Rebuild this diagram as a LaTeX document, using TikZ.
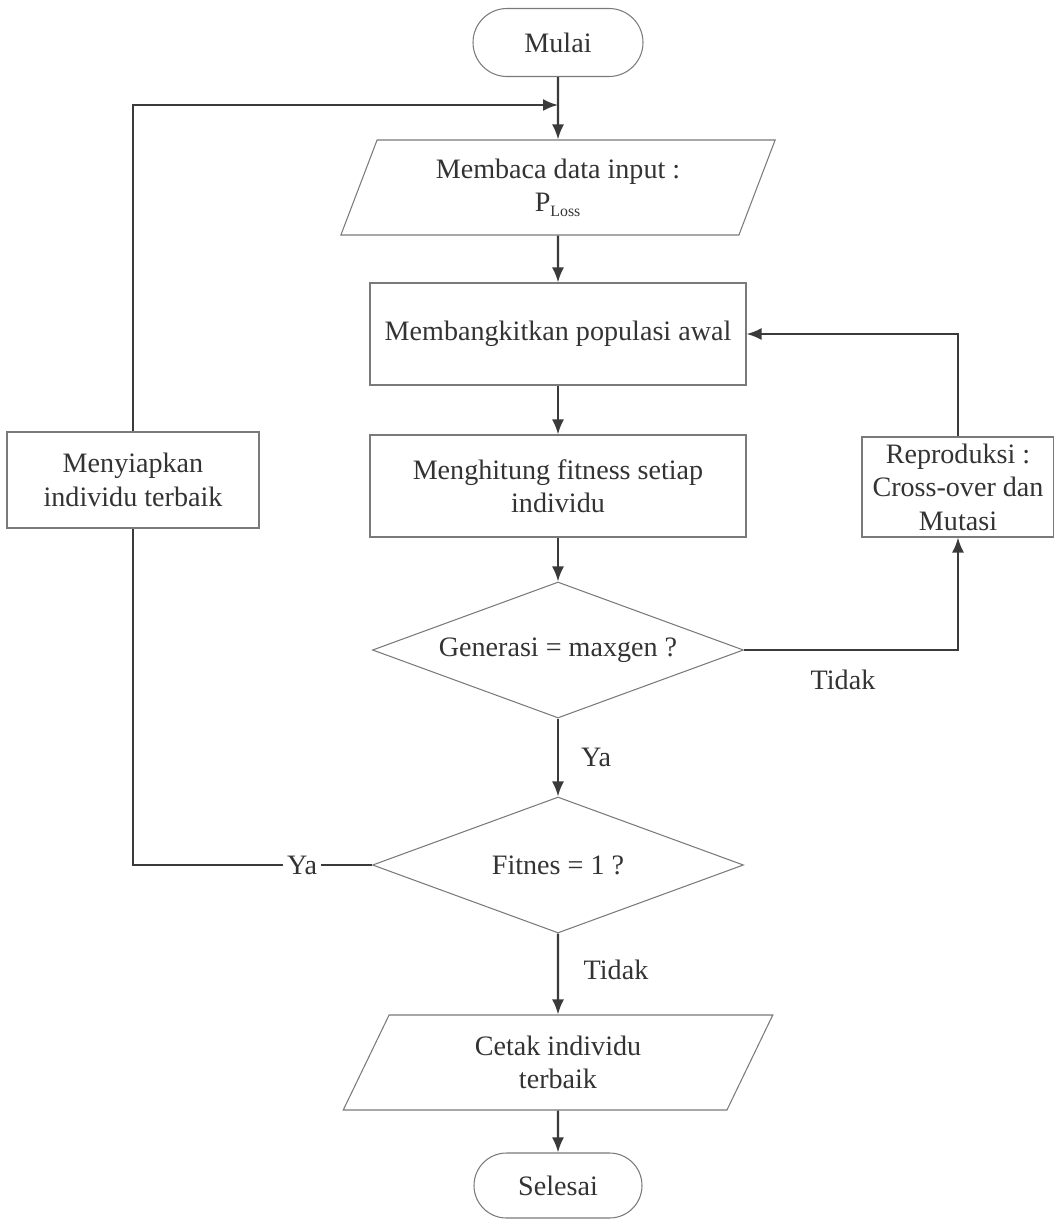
\documentclass[tikz,border=0pt]{standalone}
\usepackage{fontspec}
\setmainfont{Liberation Serif}
\usetikzlibrary{positioning}
\usetikzlibrary{shapes.geometric}
\usetikzlibrary{arrows.meta}
\definecolor{garis}{HTML}{3A3A3A}
\definecolor{tepi}{HTML}{7A7A7A}
\definecolor{tulisan}{HTML}{333333}

\begin{document}
\begin{tikzpicture}[
    font=\fontsize{16}{19}\selectfont, text=tulisan,
    terminal/.style={draw=tepi, line width=0.6pt, rounded corners=0.68cm, minimum width=3.4cm, minimum height=1.36cm},
    proses/.style={draw=tepi, line width=0.6pt, align=center, inner sep=1pt},
    masukan/.style={draw=tepi, line width=0.6pt, trapezium, trapezium left angle=67, trapezium right angle=113,
        trapezium stretches=true, minimum width=8.7cm, minimum height=1.9cm, align=center, inner sep=0pt},
    keputusan/.style={draw=tepi, line width=0.6pt, diamond, aspect=2.72, minimum width=7.42cm, minimum height=2.72cm, inner sep=0pt},
    arr/.style={draw=garis, line width=1.2pt, -{Latex[length=3mm,width=2.4mm]}},
    garisan/.style={draw=garis, line width=1.2pt}
  ]
    \useasboundingbox (0,0) rectangle (21.06,-24.42);

    % alur utama
    \node[terminal] (mulai) at (11.16, -0.85) {Mulai};
    \node[masukan] (input) at (11.16, -3.75) {Membaca data input :\\P\textsubscript{\fontsize{9}{9}\selectfont Loss}};
    \node[proses, minimum width=7.52cm, minimum height=2.04cm] (bangkit) at (11.16, -6.68) {Membangkitkan populasi awal};
    \node[proses, minimum width=7.52cm, minimum height=2.04cm] (hitung) at (11.16, -9.72) {Menghitung fitness setiap\\individu};
    \node[keputusan] (gen) at (11.16, -13.0) {Generasi = maxgen ?};
    \node[keputusan] (fit) at (11.16, -17.3) {Fitnes = 1 ?};
    \node[masukan, minimum width=8.6cm] (cetak) at (11.16, -21.25) {Cetak individu\\terbaik};
    \node[terminal, minimum width=3.36cm, minimum height=1.3cm, rounded corners=0.65cm] (selesai) at (11.16, -23.71) {Selesai};

    % kotak samping
    \node[proses, minimum width=3.84cm, minimum height=2.0cm, inner sep=0pt] (repro) at (19.16, -9.74) {Reproduksi :\\Cross-over dan\\Mutasi};
    \node[proses, minimum width=5.04cm, minimum height=1.92cm] (siapkan) at (2.66, -9.6) {Menyiapkan\\individu terbaik};

    \coordinate (gabung) at (11.16, -2.1);

    % label
    \node[anchor=west] (ya1) at (11.5, -15.14) {Ya};
    \node (tidak1) at (16.86, -13.6) {Tidak};
    \node[inner sep=2pt] (ya2) at (6.04, -17.3) {Ya};
    \node[anchor=west] (tidak2) at (11.55, -19.4) {Tidak};

    % panah
    \draw[arr] (mulai) -- (input);
    \draw[arr] (input) -- (bangkit);
    \draw[arr] (bangkit) -- (hitung);
    \draw[arr] (hitung) -- (gen);
    \draw[arr] (gen) -- (fit);
    \draw[arr] (fit) -- (cetak);
    \draw[arr] (cetak) -- (selesai);
    \draw[arr] (gen.east) -| (repro.south);
    \draw[arr] (repro.north) |- (bangkit.east);
    \draw[garisan] (fit.west) -- (ya2);
    \draw[garisan] (ya2) -| (siapkan.south);
    \draw[arr] (siapkan.north) |- (gabung);
\end{tikzpicture}
\end{document}
